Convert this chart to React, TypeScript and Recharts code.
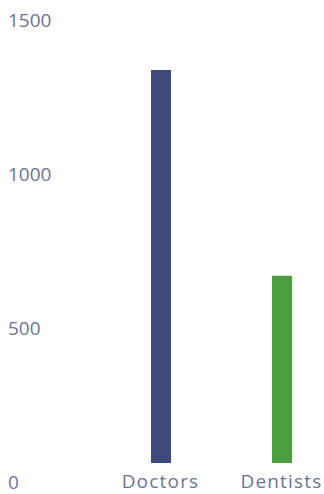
import React from "react";
import { BarChart, Bar, XAxis, YAxis, Cell } from "recharts";

const categories = ["Doctors", "Dentists"];
const counts = [1276, 608];
const barColors = ["#3e4a7b", "#4a9f3d"];
const yTicks = [0, 500, 1000, 1500];

const data = categories.map((name, i) => ({ name, count: counts[i] }));

const FONT = "'Open Sans', sans-serif";
const LABEL = "#6e7493";

// y labels sit left-aligned, a bit below their value line
// (payload.coordinate: recharts nudges the top tick's y away from the edge)
const YTick = ({ y, payload }: any) => {
  const cy = payload.coordinate ?? y;
  return (
    <text x={8} y={cy + 25.5} fill={LABEL} fontSize={19} fontFamily={FONT} textAnchor="start">
      {payload.value}
    </text>
  );
};

const XTick = ({ x, y, payload }: any) => (
  <text
    x={x}
    y={y + 25}
    fill={LABEL}
    fontSize={19}
    fontFamily={FONT}
    textAnchor="middle"
    letterSpacing={1.2}
  >
    {payload.value}
  </text>
);

export default function App() {
  return (
    <div
      style={{
        position: "absolute",
        left: 0,
        top: 0,
        width: 324,
        height: 494,
        overflow: "hidden",
        background: "#fff",
      }}
    >
      <BarChart
        width={350}
        height={494}
        data={data}
        margin={{ top: 1, right: 8, bottom: 0, left: 0 }}
      >
        <YAxis
          width={100}
          domain={[0, 1500]}
          ticks={yTicks}
          axisLine={false}
          tickLine={false}
          tick={<YTick />}
        />
        <XAxis
          dataKey="name"
          height={31}
          axisLine={false}
          tickLine={false}
          tickSize={0}
          tickMargin={0}
          tick={<XTick />}
          interval={0}
        />
        <Bar dataKey="count" barSize={20} isAnimationActive={false}>
          {data.map((d, i) => (
            <Cell key={d.name} fill={barColors[i]} />
          ))}
        </Bar>
      </BarChart>
    </div>
  );
}
